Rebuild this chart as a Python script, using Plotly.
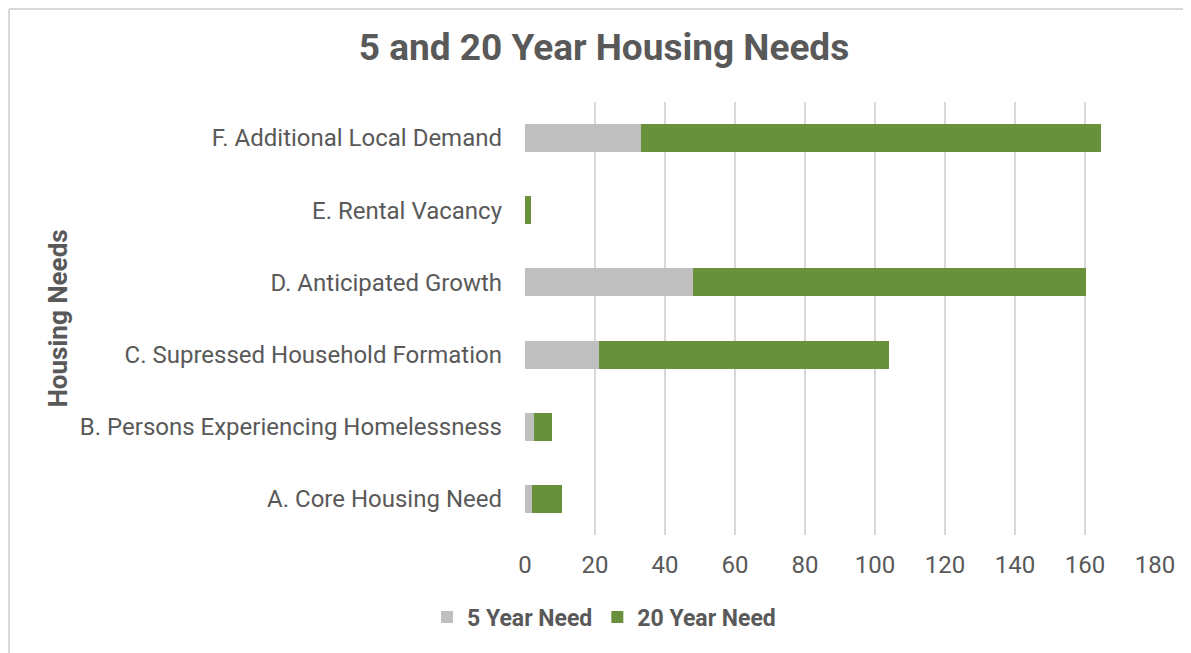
import plotly.graph_objects as go

categories = ["A. Core Housing Need", "B. Persons Experiencing Homelessness",
              "C. Supressed Household Formation", "D. Anticipated Growth",
              "E. Rental Vacancy", "F. Additional Local Demand"]
five_year = [2, 2.5, 21, 48, 0, 33]
twenty_year = [8.5, 5.1, 83, 112.3, 1.7, 131.6]
x_ticks = [0, 20, 40, 60, 80, 100, 120, 140, 160, 180]

OFF = 8  # page body margin
W, H = 1183, 645
L, R, T, B = 525 - OFF, 36, 102 - OFF, 118
pw = W - L - R
ph = H - T - B

FONT = "Roboto"
TXT = "#595959"

fig = go.Figure()
fig.add_trace(go.Bar(y=categories, x=five_year, name="5 Year Need", orientation="h",
                     marker=dict(color="#bfbfbf", line=dict(width=0))))
fig.add_trace(go.Bar(y=categories, x=twenty_year, name="20 Year Need", orientation="h",
                     marker=dict(color="#69903b", line=dict(width=0))))

fig.update_layout(
    width=W, height=H,
    barmode="stack", bargap=0.61,
    margin=dict(l=L, r=R, t=T, b=B),
    paper_bgcolor="white", plot_bgcolor="white",
    font=dict(family=FONT, color=TXT, size=24),
    title=dict(text="<b>5 and 20 Year Housing Needs</b>", font=dict(size=37, color=TXT, family=FONT),
               x=(604 - OFF) / W, xref="container", xanchor="center",
               y=1 - (47 - OFF) / H, yref="container", yanchor="middle"),
    legend=dict(orientation="h", xref="container", yref="container",
                x=(604 - OFF) / W, xanchor="center", y=1 - (617 - OFF) / H, yanchor="middle",
                font=dict(size=23, color=TXT, family=FONT, weight="bold"), itemwidth=30,
                traceorder="normal"),
    xaxis=dict(range=[0, 180], tickvals=x_ticks, showgrid=True, gridcolor="#d9d9d9", gridwidth=2,
               zeroline=False, showline=False, ticks="", tickfont=dict(size=24, color=TXT),
               ticklabelstandoff=13),
    yaxis=dict(showgrid=False, zeroline=False, showline=False, ticks="",
               tickfont=dict(size=24, color=TXT), ticklabelstandoff=22,
               categoryorder="array", categoryarray=categories),
    showlegend=True,
)

# y-axis title
fig.add_annotation(text="<b>Housing Needs</b>", textangle=-90, showarrow=False,
                   xref="paper", yref="paper", x=(57 - 525) / pw, y=0.5,
                   xanchor="center", yanchor="middle",
                   font=dict(size=26, color=TXT, family=FONT))

# outer chart border: left and top edges (figure pixel coords converted to paper)
def px_x(p):
    return (p - L) / pw

def px_y(p):
    return 1 - (p - T) / ph

border = dict(color="#d9d9d9", width=2)
fig.add_shape(type="line", xref="paper", yref="paper",
              x0=px_x(1), x1=px_x(1), y0=px_y(1), y1=px_y(H + 10), line=border, layer="below")
fig.add_shape(type="line", xref="paper", yref="paper",
              x0=px_x(1), x1=px_x(W + 10), y0=px_y(1), y1=px_y(1), line=border, layer="below")

fig.write_html("out.html")
